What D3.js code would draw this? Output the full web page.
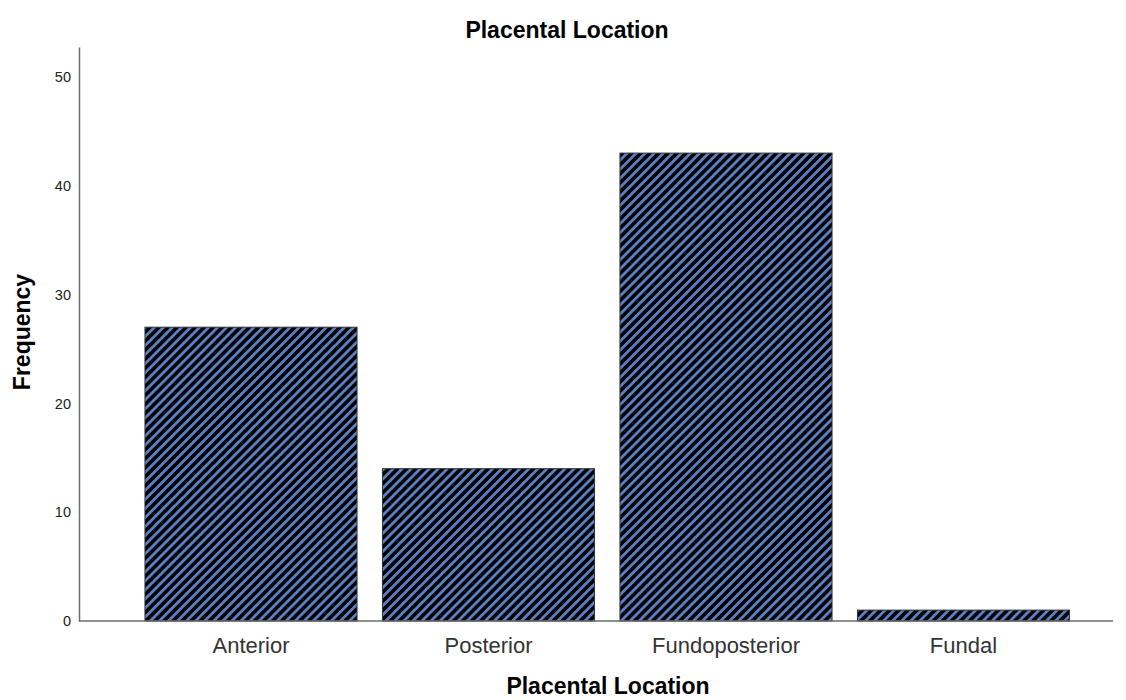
<!DOCTYPE html>
<html>
<head>
<meta charset="utf-8">
<script src="https://cdn.jsdelivr.net/npm/d3@7"></script>
<style>
  body { margin: 0; background: #fff; }
  text { font-family: "Liberation Sans", Arial, sans-serif; }
</style>
</head>
<body>
<div id="chart"></div>
<script>
// chart data
var categories = ["Anterior", "Posterior", "Fundoposterior", "Fundal"];
var frequencies = [27, 14, 43, 1];
var yTicks = [0, 10, 20, 30, 40, 50];
var title = "Placental Location";
var xTitle = "Placental Location";
var yTitle = "Frequency";

var width = 1126, height = 700;
var axisLeft = 79, axisRight = 1113, axisTop = 47, axisBottom = 621;

var svg = d3.select("#chart").append("svg")
  .attr("width", width).attr("height", height);

// diagonal hatch, blue stripes on black
var defs = svg.append("defs");
var pat = defs.append("pattern")
  .attr("id", "hatch")
  .attr("patternUnits", "userSpaceOnUse")
  .attr("width", 6.4).attr("height", 6.4)
  .attr("patternTransform", "rotate(45)");
pat.append("rect").attr("width", 6.4).attr("height", 6.4).attr("fill", "#000");
pat.append("rect").attr("x", 0).attr("width", 2.8).attr("height", 6.4).attr("fill", "#5b80c6");

var x = d3.scaleBand()
  .domain(categories)
  .range([132.25, 1082.25])
  .paddingInner(0.107)
  .paddingOuter(0.0535);

var y = d3.scaleLinear()
  .domain([0, 52.75])
  .range([axisBottom, axisTop]);

// bars
svg.selectAll("rect.bar")
  .data(categories)
  .enter().append("rect")
  .attr("class", "bar")
  .attr("x", function (d) { return x(d); })
  .attr("width", x.bandwidth())
  .attr("y", function (d, i) { return y(frequencies[i]); })
  .attr("height", function (d, i) { return y(0) - y(frequencies[i]); })
  .attr("fill", "url(#hatch)")
  .attr("stroke", "#333")
  .attr("stroke-width", 1);

// y axis
var yAxis = d3.axisLeft(y).tickValues(yTicks).tickSize(0).tickPadding(8);
var gy = svg.append("g")
  .attr("transform", "translate(" + axisLeft + ",0)")
  .call(yAxis);
gy.select(".domain").attr("stroke", "#6b6b6b").attr("stroke-width", 1.5);
gy.selectAll("text").attr("font-size", 14.5).attr("fill", "#222")
  .attr("font-family", "'DejaVu Sans', sans-serif");

// x axis
var gx = svg.append("g")
  .attr("transform", "translate(0," + axisBottom + ")")
  .call(d3.axisBottom(x).tickSize(0).tickPadding(16));
gx.select(".domain").remove();
gx.append("line")
  .attr("x1", axisLeft).attr("x2", axisRight)
  .attr("y1", 0).attr("y2", 0)
  .attr("stroke", "#6b6b6b").attr("stroke-width", 1.5);
gx.selectAll("text").attr("font-size", 22).attr("fill", "#333");

// titles
svg.append("text")
  .attr("x", 567).attr("y", 38)
  .attr("text-anchor", "middle")
  .attr("font-size", 23).attr("font-weight", "bold")
  .text(title);

svg.append("text")
  .attr("x", 608).attr("y", 694)
  .attr("text-anchor", "middle")
  .attr("font-size", 23).attr("font-weight", "bold")
  .text(xTitle);

svg.append("text")
  .attr("transform", "translate(30," + 332 + ") rotate(-90)")
  .attr("text-anchor", "middle")
  .attr("font-size", 23).attr("font-weight", "bold")
  .text(yTitle);
</script>
</body>
</html>
